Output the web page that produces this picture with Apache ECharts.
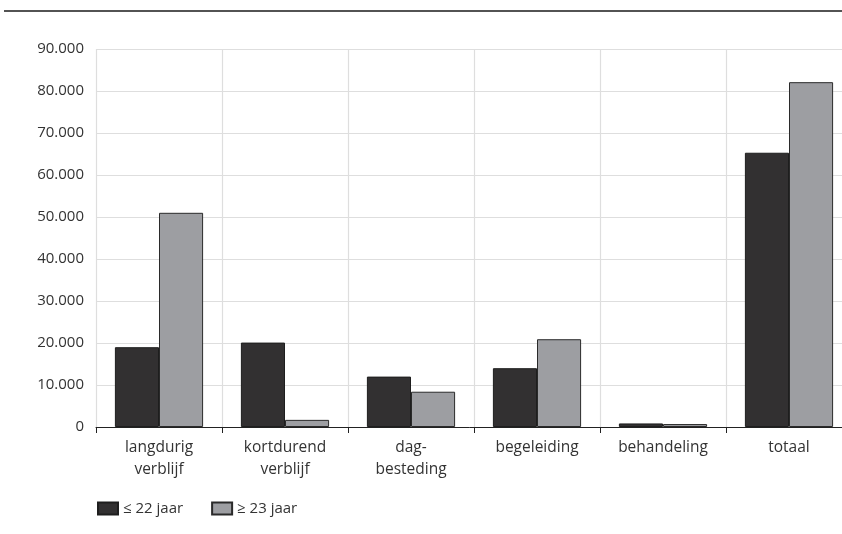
<!DOCTYPE html>
<html><head><meta charset="utf-8">
<script src="https://cdn.jsdelivr.net/npm/echarts@6/dist/echarts.min.js"></script>
<style>html,body{margin:0;padding:0;background:#fff}#c{width:842px;height:534px}</style>
</head><body><div id="c"></div>
<script>
const categories = ['langdurig\nverblijf', 'kortdurend\nverblijf', 'dag-\nbesteding', 'begeleiding', 'behandeling', 'totaal'];
const young = [19000, 20100, 12000, 14000, 850, 65300];
const old = [51000, 1700, 8400, 20900, 700, 82100];
const seriesNames = ['≤ 22 jaar', '≥ 23 jaar'];
const yTicks = { min: 0, max: 90000, interval: 10000 };

const font = '"Open Sans", "Noto Sans", sans-serif';
const chart = echarts.init(document.getElementById('c'), null, { renderer: 'canvas' });
chart.setOption({
  animation: false,
  textStyle: { fontFamily: font },
  graphic: [{ type: 'line', shape: { x1: 4, y1: 11, x2: 842, y2: 11 }, style: { stroke: '#1a1a1a', lineWidth: 1.5 } }],
  grid: { left: 96, top: 49, width: 756, bottom: 107, containLabel: false, outerBoundsMode: 'none' },
  legend: {
    left: 92, top: 496, itemWidth: 20, itemHeight: 12, itemGap: 28, icon: 'rect',
    textStyle: { fontFamily: font, fontSize: 15, color: '#333' },
    data: seriesNames
  },
  xAxis: {
    type: 'category', data: categories,
    axisLine: { show: true, lineStyle: { color: '#222', width: 1 } },
    axisTick: { show: true, length: 6, lineStyle: { color: '#222' } },
    splitLine: { show: true, lineStyle: { color: '#dedede', width: 1.2 } },
    axisLabel: { fontFamily: font, fontSize: 15.5, color: '#333', margin: 10, lineHeight: 22 }
  },
  yAxis: {
    type: 'value', min: yTicks.min, max: yTicks.max, interval: yTicks.interval,
    axisLine: { show: false }, axisTick: { show: false },
    splitLine: { lineStyle: { color: '#dedede', width: 1.2 } },
    axisLabel: {
      fontFamily: font, fontSize: 15, color: '#333', margin: 12,
      formatter: v => v === 0 ? '0' : String(v).replace(/\B(?=(\d{3})+(?!\d))/g, '.')
    }
  },
  series: [
    { name: seriesNames[0], type: 'bar', data: young, barGap: '0%', barCategoryGap: '30%',
      itemStyle: { color: '#323031', borderColor: '#1e1e1e', borderWidth: 1 } },
    { name: seriesNames[1], type: 'bar', data: old,
      itemStyle: { color: '#9d9ea2', borderColor: '#2a2a2a', borderWidth: 1 } }
  ]
});
</script></body></html>
